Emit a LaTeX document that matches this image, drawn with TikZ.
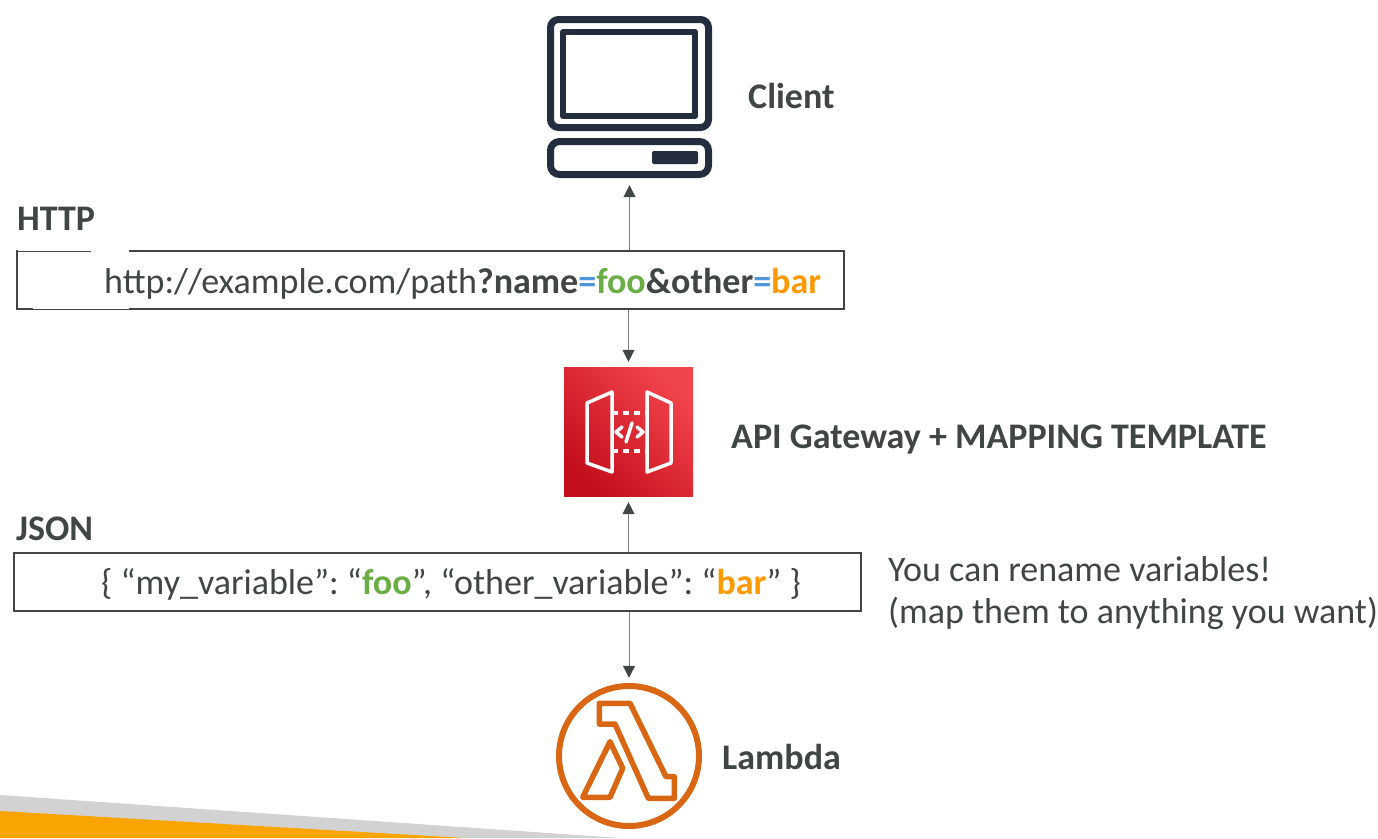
\documentclass[tikz,border=0pt]{standalone}
\usepackage{fontspec}
\setmainfont{Carlito}
\usetikzlibrary{arrows.meta}
\definecolor{txt}{HTML}{404644}
\definecolor{navy}{HTML}{232F3E}
\definecolor{lam}{HTML}{D86613}
\definecolor{gfoo}{HTML}{6AAD45}
\definecolor{obar}{HTML}{FF9900}
\definecolor{beq}{HTML}{4F97D8}
\definecolor{wedgegray}{HTML}{D2D2D2}
\definecolor{wedgeor}{HTML}{F9A400}
\definecolor{gwlow}{HTML}{C40E1C}
\definecolor{gwhigh}{HTML}{F2444C}
\tikzset{
  lbl/.style={font=\fontsize{36}{40}\selectfont\frenchspacing,text=txt,inner sep=0pt,anchor=base west},
  blbl/.style={lbl,font=\fontsize{36}{40}\selectfont\bfseries},
  tbox/.style={draw=txt,line width=2pt,fill=white,inner sep=0pt},
  conn/.style={draw=gray,line width=1pt,-{Triangle[length=12pt,width=12pt,color=txt]}},
  navyline/.style={draw=navy,line join=round},
  gwline/.style={draw=white,line width=3.5pt,line join=round,line cap=round},
}
\begin{document}
\begin{tikzpicture}[x=1pt,y=-1pt]
\useasboundingbox (0,0) rectangle (1378,838);
\fill[wedgegray] (0,795) -- (620,838) -- (0,838) -- cycle;
\fill[wedgeor] (0,811) -- (465,838) -- (0,838) -- cycle;
% client icon
\node[minimum width=165pt,minimum height=162pt,inner sep=0pt] (client) at (629.5,97) {};
\draw[navyline,line width=7pt,rounded corners=8pt] (550.5,19.5) rectangle (708.5,127.5);
\draw[navyline,line width=6.5pt] (563,32) rectangle (695,116);
\draw[navyline,line width=7pt,rounded corners=9pt] (550.5,141.5) rectangle (708.5,174.5);
\fill[navy,rounded corners=2pt] (652,151) rectangle (698,164);
% gateway icon
\node[minimum size=129pt,inner sep=0pt] (gw) at (628.5,431.5) {};
\shade[bottom color=gwlow,top color=gwhigh,shading angle=-45] (564,367) rectangle (693,496);
\draw[gwline] (587,403) -- (612,392) -- (612,472) -- (587,463) -- cycle;
\draw[gwline] (647,392) -- (671,403) -- (671,463) -- (647,472) -- cycle;
\draw[gwline,line cap=butt,dash pattern=on 6pt off 5pt] (612,413) -- (647,413);
\draw[gwline,line cap=butt,dash pattern=on 6pt off 5pt] (612,451) -- (647,451);
\draw[gwline] (622,427) -- (616,432) -- (622,437);
\draw[gwline] (637,427) -- (643,432) -- (637,437);
\draw[gwline] (632,423) -- (626,442);
% lambda
\node[circle,minimum size=146pt,inner sep=0pt] (lambda) at (629,756) {};
\draw[lam,line width=6pt] (629,756) circle[radius=70];
\draw[lam,line width=5.5pt,line join=round] (599.3,703.3) -- (630,703.3) -- (666,776.7) -- (674.3,776.7) -- (674.3,798.3) -- (648.3,798.3) -- (615,724) -- (599.3,724) -- cycle;
\draw[lam,line width=5.5pt,line join=round] (610,741.7) -- (622.7,768.3) -- (610,797.3) -- (582.7,797.3) -- cycle;
% boxes
\node[tbox,minimum width=827pt,minimum height=58pt] (http) at (430,280) {};
\node[tbox,minimum width=847pt,minimum height=58pt] (json) at (437.5,582) {};
\fill[white] (91,250) rectangle (129,251.6);
\fill[white] (18,250) rectangle (91,250.8);
\fill[white] (33,308) rectangle (129,309.2);
\node[lbl] at (104,293) {http://example.com/path\textbf{?name}\textcolor{beq}{\textbf{=}}\textcolor{gfoo}{\textbf{foo}}\textbf{\&other}\textcolor{beq}{\textbf{=}}\textcolor{obar}{\textbf{bar}}};
\node[lbl] at (101,594) {\{ “my\_variable”: “\textcolor{gfoo}{\textbf{foo}}”, “other\_variable”: “\textcolor{obar}{\textbf{bar}}” \}};
% labels
\node[blbl] at (748,108) {Client};
\node[blbl] at (17,230) {HTTP};
\node[blbl] at (731,448) {API Gateway + MAPPING TEMPLATE};
\node[blbl] at (16,540) {JSON};
\node[lbl] at (888,581) {You can rename variables!};
\node[lbl] at (888,623) {(map them to anything you want)};
\node[blbl] at (722,769) {Lambda};
% connectors
\draw[conn,shorten >=7pt] (http.north -| client.south) -- (client.south);
\draw[conn,shorten >=5pt] (http.south -| gw.north) -- (gw.north);
\draw[conn,shorten >=6pt] (json.north -| gw.south) -- (gw.south);
\draw[conn,shorten >=5pt] (json.south -| lambda.north) -- (lambda.north);
\end{tikzpicture}
\end{document}
